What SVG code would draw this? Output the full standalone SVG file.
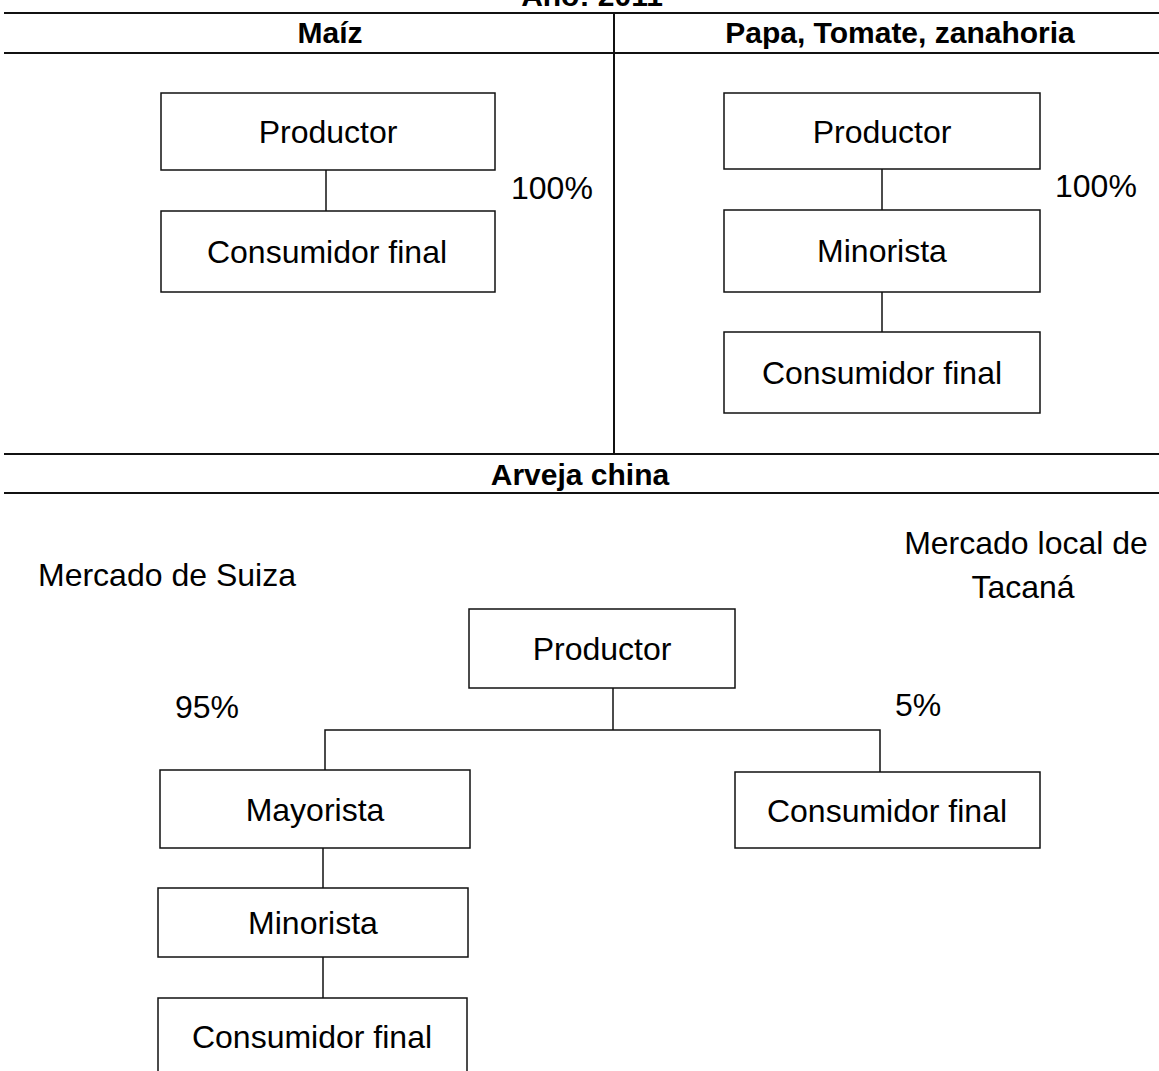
<svg xmlns="http://www.w3.org/2000/svg" width="1159" height="1071" viewBox="0 0 1159 1071">
<style>
.box{fill:#fff;stroke:#111;stroke-width:1.5}
.t{font-family:"Liberation Sans",Arial,sans-serif;font-size:32px;fill:#000}
.c{text-anchor:middle}
.h{font-family:"Liberation Sans",Arial,sans-serif;font-size:30px;font-weight:bold;fill:#000;text-anchor:middle}
.rule{stroke:#111;stroke-width:2;fill:none}
.conn{stroke:#111;stroke-width:1.5;fill:none}
</style>
<rect width="1159" height="1071" fill="#fff"/>
<g id="frame">
<text class="h" x="592" y="6">Año: 2011</text>
<line class="rule" x1="4" y1="13" x2="1159" y2="13"/>
<line class="rule" x1="4" y1="53" x2="1159" y2="53"/>
<line class="rule" x1="614" y1="13" x2="614" y2="454"/>
<line class="rule" x1="4" y1="454" x2="1159" y2="454"/>
<line class="rule" x1="4" y1="493" x2="1159" y2="493"/>
<text class="h" x="330" y="43">Maíz</text>
<text class="h" x="900" y="43">Papa, Tomate, zanahoria</text>
<text class="h" x="580" y="485">Arveja china</text>
</g>
<g id="connectors">
<line class="conn" x1="326" y1="170" x2="326" y2="211"/>
<line class="conn" x1="882" y1="169" x2="882" y2="210"/>
<line class="conn" x1="882" y1="292" x2="882" y2="332"/>
<polyline class="conn" points="613,688 613,730"/>
<polyline class="conn" points="325,770 325,730 880,730 880,772"/>
<line class="conn" x1="323" y1="848" x2="323" y2="888"/>
<line class="conn" x1="323" y1="957" x2="323" y2="998"/>
</g>
<g id="maiz-productor"><rect class="box" x="161" y="93" width="334" height="77"/><text class="t c" x="328" y="143">Productor</text></g>
<g id="maiz-consumidor"><rect class="box" x="161" y="211" width="334" height="81"/><text class="t c" x="327" y="263">Consumidor final</text></g>
<g id="pct-maiz"><text class="t" x="511" y="199">100%</text></g>
<g id="papa-productor"><rect class="box" x="724" y="93" width="316" height="76"/><text class="t c" x="882" y="143">Productor</text></g>
<g id="papa-minorista"><rect class="box" x="724" y="210" width="316" height="82"/><text class="t c" x="882" y="262">Minorista</text></g>
<g id="papa-consumidor"><rect class="box" x="724" y="332" width="316" height="81"/><text class="t c" x="882" y="384">Consumidor final</text></g>
<g id="pct-papa"><text class="t" x="1055" y="197">100%</text></g>
<g id="mercado-suiza"><text class="t" x="38" y="586">Mercado de Suiza</text></g>
<g id="mercado-local"><text class="t c" x="1026" y="554">Mercado local de</text><text class="t c" x="1023" y="598">Tacaná</text></g>
<g id="arveja-productor"><rect class="box" x="469" y="609" width="266" height="79"/><text class="t c" x="602" y="660">Productor</text></g>
<g id="pct-95"><text class="t" x="175" y="718">95%</text></g>
<g id="pct-5"><text class="t" x="895" y="716">5%</text></g>
<g id="arveja-mayorista"><rect class="box" x="160" y="770" width="310" height="78"/><text class="t c" x="315" y="821">Mayorista</text></g>
<g id="arveja-consumidor-local"><rect class="box" x="735" y="772" width="305" height="76"/><text class="t c" x="887" y="822">Consumidor final</text></g>
<g id="arveja-minorista"><rect class="box" x="158" y="888" width="310" height="69"/><text class="t c" x="313" y="934">Minorista</text></g>
<g id="arveja-consumidor"><rect class="box" x="158" y="998" width="309" height="90"/><text class="t c" x="312" y="1048">Consumidor final</text></g>
</svg>
